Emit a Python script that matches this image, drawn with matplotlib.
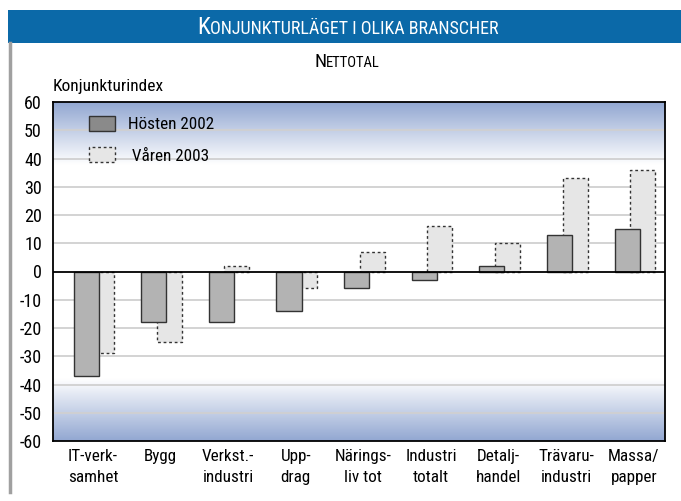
import matplotlib.pyplot as plt
import matplotlib.patches as mpatches
from matplotlib.colors import LinearSegmentedColormap
import numpy as np

plt.rcParams['font.family'] = ['Roboto Condensed', 'Liberation Sans Narrow', 'Liberation Sans', 'DejaVu Sans']
plt.rcParams['font.stretch'] = 'condensed'

categories = ['IT-verk-\nsamhet', 'Bygg', 'Verkst.-\nindustri', 'Upp-\ndrag', 'Närings-\nliv tot',
              'Industri\ntotalt', 'Detalj-\nhandel', 'Trävaru-\nindustri', 'Massa/\npapper']
hosten_2002 = [-37, -18, -18, -14, -6, -3, 2, 13, 15]
varen_2003 = [-29, -25, 2, -6, 7, 16, 10, 33, 36]
yticks = list(range(-60, 61, 10))

W, H = 681, 501
fig = plt.figure(figsize=(W / 100, H / 100), dpi=100)


def small_caps(cx, cy, first, rest, big, small, color):
    """Draws fake small caps text centred at cx (pixels)"""
    t1 = fig.text(0, 1 - cy / H, first, color=color, fontsize=big, va='baseline', ha='left')
    t2 = fig.text(0, 1 - cy / H, rest, color=color, fontsize=small, va='baseline', ha='left')
    fig.canvas.draw()
    r = fig.canvas.get_renderer()
    w1 = t1.get_window_extent(r).width
    w2 = t2.get_window_extent(r).width
    x0 = cx - (w1 + w2) / 2
    t1.set_x(x0 / W)
    t2.set_x((x0 + w1) / W)


# title bar
fig.patches.append(mpatches.Rectangle((8 / W, 1 - 43 / H), 1, 33 / H, transform=fig.transFigure,
                                      facecolor='#0b69a8', edgecolor='none'))
small_caps(348, 34, 'K', 'ONJUNKTURLÄGET I OLIKA BRANSCHER', 17, 13, 'white')
fig.lines.append(plt.Line2D([10 / W, 10 / W], [1 - 43 / H, 1 - 492 / H], transform=fig.transFigure,
                            color='#a0a0a0', lw=2.5))
small_caps(347, 67, 'N', 'ETTOTAL', 14, 10.5, 'black')
fig.text(53 / W, 1 - 86 / H, 'Konjunkturindex', fontsize=12.5, va='center', ha='left')

ax = fig.add_axes([53 / W, 1 - 441 / H, 612 / W, 339 / H])

# background gradient: blue at top and bottom, white in the middle
grad_cmap = LinearSegmentedColormap.from_list('bg', ['#ffffff', '#93a8d2'])
yy = np.linspace(-60, 60, 240)
vals = np.clip((np.abs(yy) - 38) / 22, 0, 1)
ax.imshow(vals[:, None], extent=(-0.49, 8.56, -60, 60), origin='lower', aspect='auto',
          cmap=grad_cmap, vmin=0, vmax=1, zorder=0, interpolation='bilinear')

for y in yticks:
    if y not in (-60, 0, 60):
        ax.axhline(y, color='#d0d0d0', lw=1.3, zorder=1)

x = np.arange(len(categories))
w = 0.37
ax.bar(x + 0.23, varen_2003, w, color='#e6e6e6', edgecolor='#333333', linestyle=(0, (2, 2)),
       lw=1, zorder=2, label='Våren 2003')
ax.bar(x, hosten_2002, w, color='#b3b3b3', edgecolor='#333333', lw=1, zorder=3, label='Hösten 2002')
ax.axhline(0, color='black', lw=1.3, zorder=4)

ax.set_xlim(-0.49, 8.56)
ax.set_ylim(-60, 60)
ax.set_yticks(yticks)
ax.set_yticklabels([str(v) for v in yticks], fontsize=13)
ax.set_xticks(x + 0.1)
ax.set_xticklabels(categories, fontsize=12.3, linespacing=1.5)
ax.tick_params(axis='y', length=0, pad=8)
ax.tick_params(axis='x', length=0, pad=6)
for s in ax.spines.values():
    s.set_linewidth(1.3)

h1 = mpatches.Patch(facecolor='#8a8a8a', edgecolor='#333333', lw=1)
h2 = mpatches.Patch(facecolor='#e6e6e6', edgecolor='#333333', lw=1, linestyle=(0, (2, 2)))
ax.legend([h1, h2], ['Hösten 2002', ' Våren 2003'], loc='upper left', bbox_to_anchor=(36 / 612, 1 - 14 / 339),
          frameon=False, fontsize=12.3, borderpad=0, borderaxespad=0, handlelength=1.5, handleheight=1.0,
          labelspacing=0.85, handletextpad=0.8)

fig.savefig('out.png', dpi=100)
